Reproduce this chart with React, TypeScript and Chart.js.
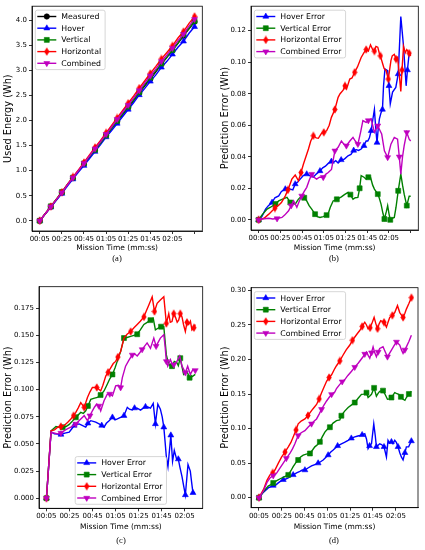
import { useEffect, useRef } from "react";
import { Chart, registerables } from "chart.js";
import { drawPoint } from "chart.js/helpers";

Chart.register(...registerables);

type Pt = [number, number];

// shared x axis (seconds since start)
const xTickValues = [5, 25, 45, 65, 85, 105, 125, 145];
const xTickLabels = ["00:05", "00:25", "00:45", "01:05", "01:25", "01:45", "02:05", ""];

// (a) used energy
const timeA = [5, 10, 15, 20, 25, 30, 35, 40, 45, 50, 55, 60, 65, 70, 75, 80, 85, 90, 95, 100, 105, 110, 115, 120, 125, 130, 135, 140, 145];
const measuredA = [0, 0.14, 0.28, 0.42, 0.56, 0.71, 0.85, 0.99, 1.13, 1.27, 1.41, 1.55, 1.7, 1.84, 1.98, 2.12, 2.26, 2.4, 2.55, 2.69, 2.83, 2.97, 3.12, 3.26, 3.4, 3.54, 3.69, 3.83, 3.97];
const hoverA = [0, 0.136, 0.271, 0.407, 0.543, 0.69, 0.83, 0.97, 1.1, 1.24, 1.38, 1.52, 1.67, 1.8, 1.94, 2.08, 2.22, 2.36, 2.51, 2.64, 2.78, 2.91, 3.06, 3.18, 3.32, 3.46, 3.58, 3.74, 3.87];
const verticalA = [0, 0.144, 0.288, 0.43, 0.573, 0.724, 0.861, 1.0, 1.145, 1.282, 1.415, 1.552, 1.703, 1.846, 1.992, 2.134, 2.276, 2.415, 2.564, 2.717, 2.856, 2.994, 3.135, 3.264, 3.404, 3.542, 3.715, 3.841, 3.985];
const horizontalA = [0, 0.141, 0.284, 0.428, 0.571, 0.726, 0.875, 1.016, 1.163, 1.313, 1.463, 1.602, 1.755, 1.902, 2.05, 2.2, 2.345, 2.49, 2.646, 2.793, 2.939, 3.079, 3.229, 3.358, 3.49, 3.645, 3.775, 3.939, 4.076];
const combinedA = [0, 0.14, 0.281, 0.421, 0.561, 0.713, 0.859, 0.998, 1.145, 1.292, 1.438, 1.576, 1.727, 1.871, 2.024, 2.169, 2.307, 2.451, 2.598, 2.752, 2.892, 3.03, 3.178, 3.306, 3.444, 3.592, 3.723, 3.884, 4.021];

// (b) prediction error
const hoverB: Pt[] = [[5, 0], [8, 0.002], [11.4, 0.0068], [14, 0.009], [17.4, 0.011], [20, 0.014], [23.5, 0.0152], [26, 0.018], [29.6, 0.0195], [32, 0.0205], [34.2, 0.0195], [36.5, 0.019], [38.7, 0.0227], [41, 0.024], [43.3, 0.0258], [46, 0.028], [49.3, 0.029], [52, 0.028], [55.4, 0.027], [58, 0.029], [61.5, 0.031], [64, 0.033], [66.5, 0.034], [69.1, 0.0358], [72, 0.037], [74, 0.0365], [76, 0.0375], [78.2, 0.036], [81, 0.038], [84, 0.0385], [87.3, 0.0406], [90, 0.0415], [92.5, 0.044], [95, 0.0445], [97, 0.044], [99.4, 0.0449], [102, 0.047], [104, 0.05], [105.5, 0.05], [107, 0.052], [108.6, 0.0565], [110, 0.063], [111.6, 0.07], [112.8, 0.058], [114, 0.049], [115, 0.057], [116.2, 0.064], [117.7, 0.068], [119, 0.07], [120, 0.085], [121.3, 0.0957], [123.8, 0.0946], [125, 0.085], [126.2, 0.0735], [128.3, 0.081], [131.3, 0.084], [133.5, 0.0925], [135.9, 0.129], [138.4, 0.11], [140.8, 0.085], [142, 0.095], [143.6, 0.1057], [145, 0.105]];
const verticalB: Pt[] = [[5, 0], [8, 0.003], [12.8, 0.0068], [16, 0.008], [20.5, 0.01], [23.5, 0.012], [26.5, 0.013], [31.1, 0.0142], [34.2, 0.011], [38.7, 0.01], [41.5, 0.013], [44.7, 0.0152], [47, 0.014], [49.3, 0.012], [51.5, 0.009], [53.9, 0.0068], [57, 0.0036], [59, 0.002], [61.5, 0.0015], [64.5, 0.002], [67.6, 0.003], [69.1, 0.004], [71, 0.008], [73.6, 0.012], [77, 0.013], [81.2, 0.0146], [84, 0.016], [87.3, 0.0174], [89.5, 0.016], [91.9, 0.0131], [94, 0.014], [96.4, 0.0142], [98, 0.02], [99.4, 0.028], [102, 0.027], [104, 0.0258], [106, 0.027], [108, 0.027], [110, 0.022], [111.6, 0.0195], [114.7, 0.0163], [116, 0.014], [117.7, 0.01], [119.5, 0.004], [120.8, 0.0005], [122.5, 0.005], [123.8, 0.009], [125, 0.004], [126.2, 0], [128, 0.001], [129.9, 0.0015], [131.5, 0.008], [133.5, 0.0184], [135.9, 0.029], [137.5, 0.022], [139, 0.0163], [141.4, 0.009], [143.6, 0.015], [145, 0.015]];
const horizontalB: Pt[] = [[5, 0], [10, 0.001], [14.4, 0.0036], [18, 0.006], [20, 0.0075], [23.5, 0.0093], [26, 0.011], [29.6, 0.0152], [32, 0.019], [35.6, 0.0258], [38.7, 0.0284], [41.7, 0.0248], [44, 0.03], [46.3, 0.0354], [50.9, 0.0449], [53, 0.05], [55.4, 0.0533], [58, 0.052], [60, 0.0517], [63, 0.055], [65, 0.0555], [67.6, 0.0565], [70, 0.06], [72, 0.065], [75.2, 0.07], [78.2, 0.0777], [80, 0.08], [82.8, 0.0823], [84.5, 0.085], [86, 0.083], [88.9, 0.0893], [91, 0.09], [93.4, 0.0936], [96, 0.097], [99.4, 0.103], [102, 0.106], [104, 0.108], [106, 0.107], [108, 0.111], [110, 0.108], [111.6, 0.107], [113, 0.11], [114.7, 0.1095], [116, 0.106], [117.1, 0.104], [119.2, 0.099], [120.5, 0.096], [122.3, 0.0946], [124.4, 0.0893], [126.8, 0.101], [128, 0.104], [129.9, 0.105], [131.5, 0.102], [132.9, 0.103], [134.5, 0.092], [135.9, 0.0815], [137, 0.095], [138.4, 0.11], [140, 0.106], [141.4, 0.108], [143.6, 0.1057], [145, 0.104]];
const combinedB: Pt[] = [[5, 0], [8, 0.0005], [14.4, 0.001], [18, 0.0005], [22, 0.0008], [26.5, 0.0015], [29, 0.003], [32.6, 0.0057], [35, 0.009], [37.2, 0.012], [40.2, 0.0079], [42.5, 0.012], [44.7, 0.0152], [47, 0.018], [49.3, 0.0206], [51.5, 0.025], [53.9, 0.029], [56, 0.027], [58.4, 0.0258], [61, 0.027], [64.5, 0.027], [67, 0.029], [69.1, 0.03], [72.1, 0.032], [75.2, 0.0438], [78.2, 0.046], [81.2, 0.05], [83.5, 0.048], [85.8, 0.047], [89, 0.05], [91.9, 0.0523], [94, 0.05], [96.4, 0.048], [99, 0.056], [101, 0.0629], [104, 0.0618], [106, 0.063], [108.6, 0.064], [110, 0.06], [111.6, 0.0555], [114.7, 0.0597], [116.5, 0.057], [118.3, 0.0544], [120.8, 0.0438], [123.8, 0.0396], [126.8, 0.048], [129.9, 0.0523], [132.9, 0.0512], [134.5, 0.04], [135.9, 0.029], [137.5, 0.04], [139, 0.047], [141.4, 0.0555], [143.6, 0.0512], [145, 0.05]];

// (c) prediction error
const hoverC: Pt[] = [[5, 0], [9, 0.061], [11.9, 0.0593], [14.8, 0.059], [17.6, 0.0587], [21, 0.06], [24.8, 0.0608], [27, 0.064], [29.1, 0.067], [33.4, 0.0684], [36, 0.067], [39.1, 0.0654], [41, 0.069], [43.5, 0.0714], [47.8, 0.07], [50.7, 0.0684], [53, 0.067], [55, 0.0654], [57, 0.069], [59.4, 0.0714], [62.3, 0.0745], [64.5, 0.072], [66.6, 0.073], [69.4, 0.0745], [72.3, 0.076], [75.2, 0.0837], [77, 0.082], [79.5, 0.0812], [81.5, 0.083], [83.8, 0.083], [86.7, 0.0812], [89, 0.083], [91, 0.0842], [93, 0.084], [95.3, 0.083], [97.7, 0.0873], [99.6, 0.0684], [101.7, 0.0867], [103.9, 0.082], [105.5, 0.075], [106.9, 0.0654], [108, 0.052], [109.1, 0.038], [110.5, 0.029], [113, 0.058], [114.5, 0.034], [116, 0.044], [118, 0.036], [119.5, 0.036], [121, 0.028], [122.7, 0.0198], [124, 0.012], [125.6, 0.003], [127.9, 0.031], [129.9, 0.025], [131, 0.015], [132.2, 0.005], [134, 0.005]];
const verticalC: Pt[] = [[5, 0], [9, 0.062], [13.3, 0.066], [16, 0.0655], [19.1, 0.0654], [22, 0.066], [24.8, 0.068], [27.5, 0.071], [30.5, 0.0745], [34.8, 0.079], [37, 0.078], [39.1, 0.0805], [41, 0.085], [43.5, 0.091], [46, 0.092], [49.2, 0.0928], [52, 0.095], [55, 0.0988], [57.8, 0.105], [60, 0.11], [62.3, 0.114], [64.5, 0.12], [66.6, 0.1265], [69.4, 0.135], [72.3, 0.1475], [75, 0.148], [78.1, 0.149], [81, 0.15], [83.8, 0.151], [86.5, 0.155], [89.6, 0.16], [92.5, 0.162], [95.3, 0.164], [97.7, 0.1657], [99.6, 0.155], [102.5, 0.157], [104.5, 0.158], [106.9, 0.158], [109.1, 0.132], [111.2, 0.123], [114, 0.1216], [116, 0.126], [118.3, 0.1247], [119.5, 0.122], [121.2, 0.129], [122.5, 0.122], [124.1, 0.114], [126.9, 0.117], [129.3, 0.111], [132.2, 0.1125], [134.2, 0.114]];
const horizontalC: Pt[] = [[5, 0], [9, 0.062], [12, 0.063], [14.8, 0.0654], [17.5, 0.066], [20.5, 0.067], [23.5, 0.07], [26.2, 0.073], [28.5, 0.076], [30.5, 0.079], [32.5, 0.083], [34.8, 0.088], [37.8, 0.0837], [40.6, 0.0928], [42.8, 0.098], [44.9, 0.102], [48.7, 0.102], [52.1, 0.0988], [54, 0.104], [56.5, 0.1125], [58.5, 0.116], [60.8, 0.12], [63, 0.124], [65.1, 0.126], [67, 0.13], [69.4, 0.135], [72.3, 0.1475], [75, 0.151], [78.1, 0.1535], [81, 0.157], [83.8, 0.16], [86.5, 0.163], [89.6, 0.167], [91.5, 0.172], [93.9, 0.178], [96.8, 0.1855], [98.8, 0.172], [101.1, 0.1795], [103.9, 0.1825], [106.9, 0.1855], [109.1, 0.161], [111.2, 0.17], [112.5, 0.162], [114, 0.1627], [115.5, 0.17], [116.9, 0.167], [118.5, 0.162], [119.8, 0.164], [121.2, 0.17], [122.7, 0.167], [124, 0.16], [125.6, 0.1535], [127, 0.162], [128.5, 0.16], [130, 0.163], [131.3, 0.155], [133, 0.157], [134.2, 0.16]];
const combinedC: Pt[] = [[5, 0], [9, 0.061], [11.5, 0.06], [14.8, 0.0593], [17.5, 0.06], [20.5, 0.0623], [23.5, 0.064], [26.2, 0.0654], [30.5, 0.0684], [34.8, 0.073], [37.8, 0.076], [40.6, 0.0714], [42.8, 0.076], [44.9, 0.0805], [46.8, 0.084], [48.7, 0.0867], [50.5, 0.085], [52.1, 0.0805], [55, 0.0897], [57.8, 0.0958], [60, 0.096], [62.3, 0.0942], [65.1, 0.1034], [67.5, 0.104], [69.4, 0.1019], [70.9, 0.111], [73.7, 0.1216], [76.5, 0.127], [79.5, 0.132], [81.5, 0.133], [83.8, 0.131], [86, 0.134], [88.1, 0.137], [92.4, 0.143], [95.3, 0.138], [98.2, 0.1475], [100.2, 0.14], [103.9, 0.1475], [106.9, 0.1505], [108, 0.14], [109.1, 0.126], [110.3, 0.1216], [112.6, 0.1277], [114, 0.124], [115.5, 0.123], [118.3, 0.126], [120.7, 0.131], [122.7, 0.1216], [125.6, 0.1156], [127.6, 0.1216], [129.9, 0.114], [132.2, 0.1186], [134.2, 0.1177]];

// (d) prediction error
const hoverD: Pt[] = [[5, 0], [9, 0.008], [13.1, 0.0142], [15.5, 0.016], [17.5, 0.0176], [19.5, 0.018], [21.9, 0.0214], [24, 0.024], [26.3, 0.026], [28.5, 0.027], [30.7, 0.0285], [33, 0.031], [35, 0.033], [38, 0.036], [40.9, 0.038], [43, 0.04], [45.3, 0.04], [48, 0.043], [51.1, 0.046], [54, 0.048], [56.9, 0.05], [59, 0.052], [61.3, 0.0546], [63.5, 0.058], [65.7, 0.0617], [68, 0.066], [70.1, 0.069], [72, 0.072], [74, 0.075], [77.3, 0.078], [80, 0.08], [83.2, 0.083], [86, 0.086], [89, 0.088], [91, 0.089], [93.4, 0.09], [95.5, 0.091], [97.8, 0.0926], [99.3, 0.085], [100.7, 0.071], [102, 0.075], [103.7, 0.078], [105.7, 0.1068], [107, 0.09], [108, 0.0736], [109.5, 0.076], [110.9, 0.078], [112.5, 0.077], [114.7, 0.0736], [116.8, 0.059], [118.2, 0.083], [119.5, 0.079], [121.2, 0.0808], [122.5, 0.078], [124.1, 0.083], [125.5, 0.08], [127, 0.0736], [128.5, 0.065], [129.9, 0.059], [131.4, 0.0546], [133, 0.065], [134.3, 0.0736], [136.3, 0.0736], [137.5, 0.078], [138.7, 0.082]];
const verticalD: Pt[] = [[5, 0], [9, 0.009], [13.1, 0.0167], [15.5, 0.019], [17.5, 0.0214], [21, 0.025], [24.9, 0.0285], [28, 0.031], [30.7, 0.033], [33, 0.039], [35, 0.045], [37.5, 0.051], [39.4, 0.0546], [41.5, 0.059], [43.8, 0.0617], [46.5, 0.063], [49.7, 0.064], [52, 0.069], [54, 0.0736], [56.5, 0.077], [58.4, 0.0808], [60.5, 0.088], [62.8, 0.095], [65, 0.099], [67.2, 0.102], [70, 0.108], [73, 0.1115], [75.9, 0.1125], [77.3, 0.1187], [80, 0.125], [83.2, 0.1306], [86, 0.134], [89, 0.1377], [92, 0.144], [94.9, 0.1496], [97, 0.15], [99.3, 0.152], [100.7, 0.145], [102, 0.147], [103.7, 0.1496], [106, 0.159], [108, 0.147], [109.5, 0.151], [110.9, 0.154], [113.8, 0.155], [115.8, 0.149], [117.7, 0.1425], [119.5, 0.143], [121.2, 0.145], [124.1, 0.152], [125.5, 0.151], [127.6, 0.1496], [129.5, 0.146], [131.4, 0.1425], [133, 0.141], [134.3, 0.145], [136.5, 0.15], [138.7, 0.154]];
const horizontalD: Pt[] = [[5, 0], [9, 0.012], [12, 0.025], [14.6, 0.033], [17, 0.036], [19, 0.04], [22, 0.05], [24.9, 0.059], [27.8, 0.066], [30.7, 0.0736], [33, 0.08], [35, 0.088], [37.5, 0.098], [39.4, 0.107], [42, 0.111], [45.3, 0.114], [48, 0.119], [51.1, 0.126], [53.5, 0.131], [55.5, 0.135], [57.8, 0.143], [59.9, 0.152], [62, 0.16], [64.3, 0.1685], [66.5, 0.174], [68.7, 0.178], [71.5, 0.187], [73, 0.191], [75.9, 0.198], [78.8, 0.2066], [81.5, 0.214], [84.7, 0.221], [87, 0.228], [89.1, 0.2326], [91.5, 0.238], [93.4, 0.242], [95.5, 0.248], [97.8, 0.254], [99.3, 0.25], [100.7, 0.2446], [102.5, 0.246], [104, 0.252], [106, 0.261], [107.5, 0.252], [109, 0.2446], [110.5, 0.252], [111.8, 0.2564], [113.5, 0.255], [114.7, 0.254], [116.8, 0.247], [118.2, 0.254], [119.7, 0.261], [122, 0.264], [124.1, 0.268], [126.5, 0.278], [128.5, 0.268], [131.4, 0.261], [133, 0.267], [134.3, 0.273], [136.5, 0.281], [138.7, 0.2896]];
const combinedD: Pt[] = [[5, 0], [9, 0.01], [12, 0.022], [14.6, 0.0285], [17.5, 0.032], [20.5, 0.0356], [23.5, 0.043], [26.3, 0.05], [29, 0.057], [32.1, 0.064], [34.5, 0.071], [36.5, 0.078], [39.4, 0.09], [42, 0.094], [45.3, 0.097], [48, 0.102], [51.1, 0.107], [53.5, 0.111], [55.5, 0.114], [57.8, 0.121], [59.9, 0.128], [62, 0.134], [64.3, 0.14], [66.5, 0.145], [68.7, 0.1496], [71.5, 0.153], [73, 0.158], [75.9, 0.164], [78, 0.168], [80.3, 0.171], [83, 0.177], [86.2, 0.183], [89, 0.189], [92, 0.1947], [94, 0.199], [96.3, 0.204], [97.8, 0.208], [99.3, 0.211], [100.8, 0.206], [102.2, 0.2018], [103.7, 0.21], [105.1, 0.2184], [106.5, 0.21], [108, 0.204], [109.5, 0.211], [110.9, 0.216], [113.8, 0.2184], [115.8, 0.211], [117.7, 0.204], [119.5, 0.209], [121.2, 0.2137], [123.5, 0.22], [125.6, 0.2255], [128.5, 0.221], [130, 0.214], [131.4, 0.209], [133, 0.214], [134.3, 0.2184], [136.5, 0.226], [138.7, 0.235]];

const yTicksA = [0, 0.5, 1, 1.5, 2, 2.5, 3, 3.5, 4];
const yTicksB = [0, 0.02, 0.04, 0.06, 0.08, 0.1, 0.12];
const yTicksC = [0, 0.025, 0.05, 0.075, 0.1, 0.125, 0.15, 0.175];
const yTicksD = [0, 0.05, 0.1, 0.15, 0.2, 0.25, 0.3];

const errorLabels = ["Hover Error", "Vertical Error", "Horizontal Error", "Combined Error"];

const FONT = "'DejaVu Sans', sans-serif";

type Series = { label: string; color: string; marker: string; pts: Pt[]; every: number };

type PanelCfg = {
  left: number;
  top: number;
  width: number;
  height: number;
  padTop: number;
  padRight: number;
  yWidth: number;
  xHeight: number;
  yTitle: string;
  yTitlePad: number;
  xTitlePad: number;
  yMin: number;
  yMax: number;
  yTicks: number[];
  yDec: number;
  xMin: number;
  xMax: number;
  legend: "ul" | "lc";
  caption: string;
  capX: number;
  capY: number;
  series: Series[];
};

const zipA = (ys: number[]): Pt[] => timeA.map((t, i) => [t, ys[i]]);

function errorSeries(h: Pt[], v: Pt[], hz: Pt[], c: Pt[]): Series[] {
  return [
    { label: errorLabels[0], color: "#0000ff", marker: "^", pts: h, every: 4 },
    { label: errorLabels[1], color: "#008000", marker: "s", pts: v, every: 4 },
    { label: errorLabels[2], color: "#ff0000", marker: "d", pts: hz, every: 4 },
    { label: errorLabels[3], color: "#bf00bf", marker: "v", pts: c, every: 4 },
  ];
}

const panels: PanelCfg[] = [
  {
    left: 0, top: 0, width: 212, height: 262, padTop: 6, padRight: 9.7, yWidth: 32, xHeight: 31,
    yTitle: "Used Energy (Wh)", yTitlePad: 3, xTitlePad: 9.2,
    yMin: -0.204, yMax: 4.28, yTicks: yTicksA, yDec: 1, xMin: -2, xMax: 152, legend: "ul",
    caption: "(a)", capX: 117, capY: 258,
    series: [
      { label: "Measured", color: "#000000", marker: "o", pts: zipA(measuredA), every: 2 },
      { label: "Hover", color: "#0000ff", marker: "^", pts: zipA(hoverA), every: 2 },
      { label: "Vertical", color: "#008000", marker: "s", pts: zipA(verticalA), every: 2 },
      { label: "Horizontal", color: "#ff0000", marker: "d", pts: zipA(horizontalA), every: 2 },
      { label: "Combined", color: "#bf00bf", marker: "v", pts: zipA(combinedA), every: 2 },
    ],
  },
  {
    left: 212, top: 0, width: 213, height: 262, padTop: 6, padRight: 6.7, yWidth: 39, xHeight: 32,
    yTitle: "Prediction Error (Wh)", yTitlePad: 8, xTitlePad: 9.5,
    yMin: -0.00645, yMax: 0.1355, yTicks: yTicksB, yDec: 2, xMin: -2, xMax: 152, legend: "ul",
    caption: "(b)", capX: 334, capY: 258,
    series: errorSeries(hoverB, verticalB, horizontalB, combinedB),
  },
  {
    left: 0, top: 275, width: 212, height: 270, padTop: 11.7, padRight: 9.3, yWidth: 39, xHeight: 36.7,
    yTitle: "Prediction Error (Wh)", yTitlePad: 3, xTitlePad: 13.8,
    yMin: -0.0093, yMax: 0.1948, yTicks: yTicksC, yDec: 3, xMin: -1.46, xMax: 140.66, legend: "lc",
    caption: "(c)", capX: 121, capY: 540,
    series: errorSeries(hoverC, verticalC, horizontalC, combinedC),
  },
  {
    left: 212, top: 275, width: 213, height: 270, padTop: 12.7, padRight: 7, yWidth: 39, xHeight: 37.3,
    yTitle: "Prediction Error (Wh)", yTitlePad: 8, xTitlePad: 13.5,
    yMin: -0.0145, yMax: 0.304, yTicks: yTicksD, yDec: 2, xMin: -2, xMax: 144.5, legend: "ul",
    caption: "(d)", capX: 334, capY: 540,
    series: errorSeries(hoverD, verticalD, horizontalD, combinedD),
  },
];

function makeDiamond(color: string) {
  const c = document.createElement("canvas");
  c.width = 6;
  c.height = 9;
  const g = c.getContext("2d")!;
  g.fillStyle = color;
  g.beginPath();
  g.moveTo(3, 0.3);
  g.lineTo(5.6, 4.5);
  g.lineTo(3, 8.7);
  g.lineTo(0.4, 4.5);
  g.closePath();
  g.fill();
  return c;
}

function markerStyle(marker: string, color: string): { style: any; radius: number; rotation: number } {
  switch (marker) {
    case "o":
      return { style: "circle", radius: 2.7, rotation: 0 };
    case "^":
      return { style: "triangle", radius: 3.4, rotation: 0 };
    case "v":
      return { style: "triangle", radius: 3.4, rotation: 180 };
    case "s":
      return { style: "rect", radius: 3.5, rotation: 0 };
    default:
      return { style: makeDiamond(color), radius: 4, rotation: 0 };
  }
}

function Panel({ cfg }: { cfg: PanelCfg }) {
  const canvasRef = useRef<HTMLCanvasElement>(null);

  useEffect(() => {
    if (!canvasRef.current) return;
    const ctx = canvasRef.current.getContext("2d");
    if (!ctx) return;

    const n = cfg.series.length;
    const styles = cfg.series.map((s) => markerStyle(s.marker, s.color));

    const framePlugin = {
      id: "frame",
      afterDatasetsDraw(chart: Chart) {
        const { ctx: c, chartArea: a } = chart;
        c.save();
        c.strokeStyle = "#000";
        c.lineWidth = 0.8;
        c.strokeRect(a.left, a.top, a.right - a.left, a.bottom - a.top);
        c.restore();
      },
    };

    const legendPlugin = {
      id: "innerLegend",
      afterDraw(chart: Chart) {
        const { ctx: c, chartArea: a } = chart;
        const fs = 7.8;
        c.save();
        c.font = `${fs}px ${FONT}`;
        const textW = Math.max(...cfg.series.map((s) => c.measureText(s.label).width));
        const hl = 2, hlen = 19, gap = 5, pr = 4, rowH = 11.7, padTB = 6.3;
        const w = hl + hlen + gap + textW + pr;
        const h = padTB * 2 + rowH * (n - 1);
        let x0: number, y0: number;
        if (cfg.legend === "ul") {
          x0 = a.left + 3.3;
          y0 = a.top + 4;
        } else {
          x0 = (a.left + a.right) / 2 - w / 2;
          y0 = a.bottom - 4 - h;
        }
        const r = 2;
        c.beginPath();
        c.moveTo(x0 + r, y0);
        c.lineTo(x0 + w - r, y0);
        c.quadraticCurveTo(x0 + w, y0, x0 + w, y0 + r);
        c.lineTo(x0 + w, y0 + h - r);
        c.quadraticCurveTo(x0 + w, y0 + h, x0 + w - r, y0 + h);
        c.lineTo(x0 + r, y0 + h);
        c.quadraticCurveTo(x0, y0 + h, x0, y0 + h - r);
        c.lineTo(x0, y0 + r);
        c.quadraticCurveTo(x0, y0, x0 + r, y0);
        c.closePath();
        c.fillStyle = "rgba(255,255,255,0.8)";
        c.fill();
        c.strokeStyle = "#cccccc";
        c.lineWidth = 0.8;
        c.stroke();

        cfg.series.forEach((s, i) => {
          const y = y0 + padTB + i * rowH;
          c.strokeStyle = s.color;
          c.lineWidth = 1.4;
          c.beginPath();
          c.moveTo(x0 + hl, y);
          c.lineTo(x0 + hl + hlen, y);
          c.stroke();
          c.fillStyle = s.color;
          c.lineWidth = 0.6;
          drawPoint(c, { pointStyle: styles[i].style, rotation: styles[i].rotation, radius: styles[i].radius, borderWidth: 0.6 } as any, x0 + hl + hlen / 2, y);
          c.fillStyle = "#000";
          c.textBaseline = "middle";
          c.textAlign = "left";
          c.fillText(s.label, x0 + hl + hlen + gap, y + 0.5);
        });
        c.restore();
      },
    };

    const chart = new Chart(ctx, {
      type: "line",
      data: {
        datasets: cfg.series.map((s, i) => ({
          label: s.label,
          data: s.pts.map(([x, y]) => ({ x, y })),
          borderColor: s.color,
          backgroundColor: s.color,
          borderWidth: 1.4,
          tension: 0,
          pointStyle: styles[i].style,
          pointRotation: styles[i].rotation,
          pointRadius: (c: any) => (c.dataIndex % s.every === 0 ? styles[i].radius : 0),
          pointHoverRadius: 0,
          pointBackgroundColor: s.color,
          pointBorderColor: s.color,
          pointBorderWidth: 0.6,
          order: n - 1 - i,
        })),
      },
      options: {
        responsive: false,
        animation: false,
        events: [],
        layout: { padding: { top: cfg.padTop, right: cfg.padRight, left: 0, bottom: 0 } },
        plugins: { legend: { display: false }, tooltip: { enabled: false } },
        scales: {
          x: {
            type: "linear",
            min: cfg.xMin,
            max: cfg.xMax,
            afterBuildTicks: (scale: any) => {
              scale.ticks = xTickValues.filter((v) => v >= scale.min && v <= scale.max).map((v) => ({ value: v }));
            },
            afterFit: (scale: any) => {
              scale.height = cfg.xHeight;
            },
            ticks: {
              autoSkip: false,
              maxRotation: 0,
              padding: 1,
              color: "#000",
              font: { family: FONT, size: 7 },
              callback: (v: any) => {
                const k = xTickValues.indexOf(Number(v));
                return k >= 0 ? xTickLabels[k] : "";
              },
            },
            grid: { drawOnChartArea: false, drawTicks: true, tickLength: 3, color: "#000", lineWidth: 0.8 },
            border: { display: true, color: "#000", width: 0.8 },
            title: {
              display: true,
              text: "Mission Time (mm:ss)",
              color: "#000",
              font: { family: FONT, size: 7.5 },
              padding: { top: 0, bottom: cfg.xTitlePad },
            },
          },
          y: {
            type: "linear",
            min: cfg.yMin,
            max: cfg.yMax,
            afterBuildTicks: (scale: any) => {
              scale.ticks = cfg.yTicks.map((v) => ({ value: v }));
            },
            afterFit: (scale: any) => {
              scale.width = cfg.yWidth;
            },
            ticks: {
              autoSkip: false,
              padding: 2,
              color: "#000",
              font: { family: FONT, size: 7 },
              callback: (v: any) => Number(v).toFixed(cfg.yDec),
            },
            grid: { drawOnChartArea: false, drawTicks: true, tickLength: 3, color: "#000", lineWidth: 0.8 },
            border: { display: true, color: "#000", width: 0.8 },
            title: {
              display: true,
              text: cfg.yTitle,
              color: "#000",
              font: { family: FONT, size: 9.8 },
              padding: { top: cfg.yTitlePad, bottom: 0 },
            },
          },
        },
      },
      plugins: [framePlugin, legendPlugin],
    } as any);

    return () => {
      chart.destroy();
    };
  }, [cfg]);

  return (
    <>
      <canvas
        ref={canvasRef}
        width={cfg.width}
        height={cfg.height}
        style={{ position: "absolute", left: cfg.left, top: cfg.top, width: cfg.width, height: cfg.height }}
      />
      <div
        style={{
          position: "absolute",
          left: cfg.capX,
          top: cfg.capY,
          transform: "translate(-50%, -50%)",
          fontFamily: "'Liberation Serif', 'DejaVu Serif', serif",
          fontSize: 8.5,
          color: "#000",
          whiteSpace: "nowrap",
        }}
      >
        {cfg.caption}
      </div>
    </>
  );
}

export default function App() {
  return (
    <div style={{ position: "absolute", left: 0, top: 0, width: 425, height: 550, background: "#fff", overflow: "hidden" }}>
      {panels.map((p) => (
        <Panel key={p.caption} cfg={p} />
      ))}
    </div>
  );
}
